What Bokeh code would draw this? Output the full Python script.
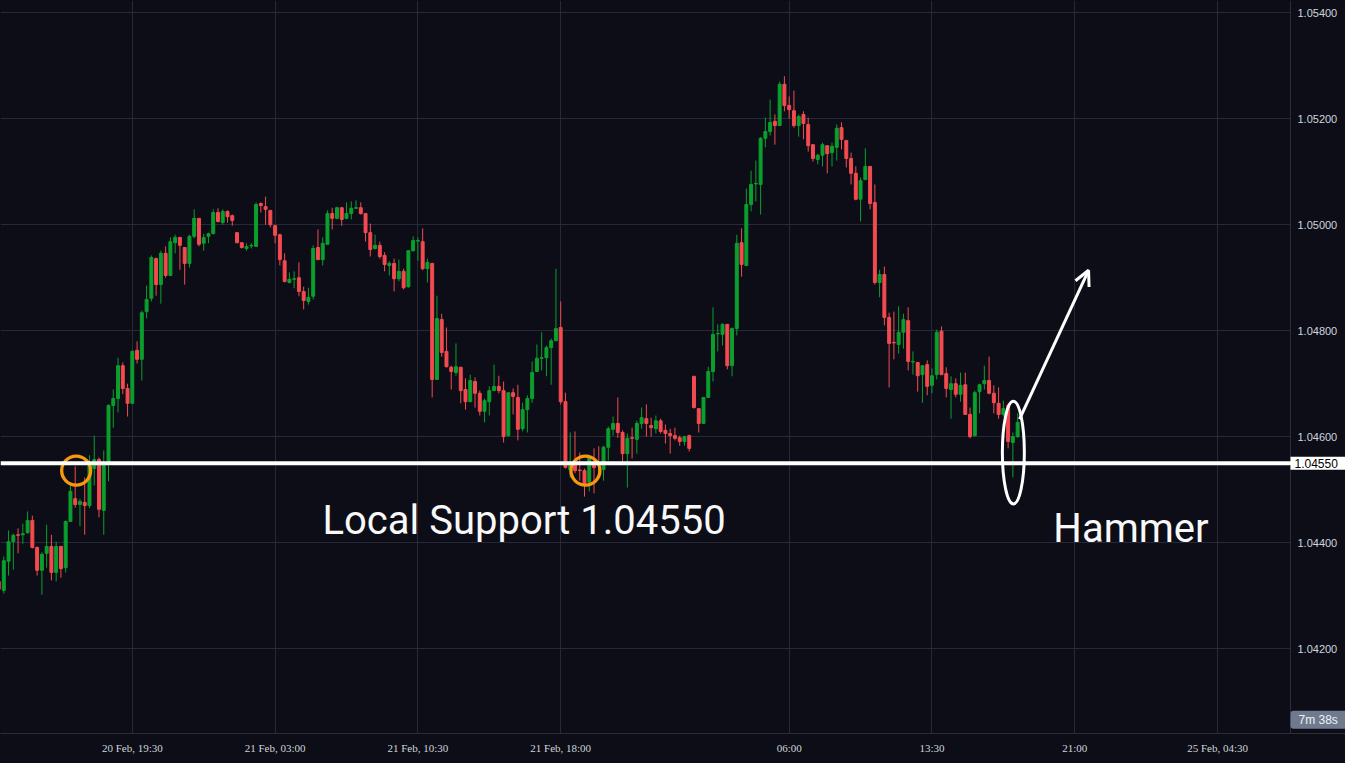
from bokeh.plotting import figure
from bokeh.models import (Range1d, FixedTicker, PrintfTickFormatter, Span, Label,
                          Arrow, OpenHead, ColumnDataSource, GlobalInlineStyleSheet)
from bokeh.embed import file_html
from bokeh.resources import INLINE

# ---------------- data (15-minute EURUSD candles) ----------------
opens = [
    1.04327, 1.04310, 1.04365, 1.04402, 1.04415, 1.04415, 1.04419, 1.04442, 1.04391, 1.04348,
    1.04380, 1.04393, 1.04344, 1.04393, 1.04353, 1.04440, 1.04483, 1.04472, 1.04476, 1.04470,
    1.04540, 1.04557, 1.04461, 1.04549, 1.04659, 1.04672, 1.04734, 1.04691, 1.04663, 1.04763,
    1.04746, 1.04836, 1.04861, 1.04936, 1.04887, 1.04946, 1.04904, 1.04966, 1.04976, 1.04957,
    1.04927, 1.04978, 1.05012, 1.04965, 1.04978, 1.04983, 1.05023, 1.05004, 1.05025, 1.05017,
    1.04985, 1.04966, 1.04955, 1.04960, 1.04959, 1.05040, 1.05034, 1.05027, 1.04998, 1.04981,
    1.04932, 1.04891, 1.04897, 1.04900, 1.04874, 1.04855, 1.04865, 1.04957, 1.04934, 1.04963,
    1.05021, 1.05012, 1.05032, 1.05012, 1.05021, 1.05031, 1.05032, 1.05021, 1.04985, 1.04955,
    1.04961, 1.04942, 1.04923, 1.04927, 1.04898, 1.04912, 1.04883, 1.04951, 1.04969, 1.04968,
    1.04917, 1.04927, 1.04708, 1.04821, 1.04761, 1.04731, 1.04721, 1.04731, 1.04689, 1.04666,
    1.04704, 1.04682, 1.04648, 1.04666, 1.04687, 1.04695, 1.04687, 1.04602, 1.04683, 1.04674,
    1.04615, 1.04651, 1.04672, 1.04723, 1.04748, 1.04749, 1.04768, 1.04781, 1.04806, 1.04666,
    1.04538, 1.04546, 1.04537, 1.04536, 1.04514, 1.04546, 1.04551, 1.04538, 1.04580, 1.04614,
    1.04625, 1.04608, 1.04568, 1.04598, 1.04595, 1.04625, 1.04634, 1.04621, 1.04615, 1.04630,
    1.04612, 1.04606, 1.04602, 1.04598, 1.04591, 1.04602, 1.04714, 1.04653, 1.04625, 1.04674,
    1.04723, 1.04794, 1.04793, 1.04812, 1.04734, 1.04804, 1.04966, 1.04923, 1.05038, 1.05077,
    1.05076, 1.05163, 1.05176, 1.05195, 1.05187, 1.05265, 1.05225, 1.05215, 1.05187, 1.05208,
    1.05189, 1.05151, 1.05123, 1.05131, 1.05149, 1.05136, 1.05146, 1.05183, 1.05159, 1.05125,
    1.05097, 1.05048, 1.05085, 1.05110, 1.05042, 1.04891, 1.04906, 1.04825, 1.04778, 1.04774,
    1.04797, 1.04819, 1.04741, 1.04740, 1.04717, 1.04736, 1.04697, 1.04717, 1.04799, 1.04719,
    1.04689, 1.04700, 1.04680, 1.04698, 1.04642, 1.04602, 1.04685, 1.04700, 1.04706, 1.04682,
    1.04663, 1.04642, 1.04659, 1.04589, 1.04600,
]
highs = [
    1.04334, 1.04374, 1.04423, 1.04417, 1.04427, 1.04436, 1.04459, 1.04451, 1.04393, 1.04382,
    1.04434, 1.04415, 1.04402, 1.04393, 1.04442, 1.04512, 1.04544, 1.04483, 1.04523, 1.04565,
    1.04602, 1.04561, 1.04574, 1.04661, 1.04689, 1.04749, 1.04740, 1.04700, 1.04763, 1.04780,
    1.04838, 1.04885, 1.04942, 1.04938, 1.04951, 1.04959, 1.04976, 1.04981, 1.04976, 1.04957,
    1.04981, 1.05029, 1.05012, 1.04983, 1.04985, 1.05029, 1.05031, 1.05029, 1.05027, 1.05019,
    1.04985, 1.04966, 1.04965, 1.04965, 1.05042, 1.05042, 1.05053, 1.05027, 1.05000, 1.04983,
    1.04946, 1.04910, 1.04912, 1.04929, 1.04883, 1.04881, 1.04961, 1.04991, 1.04976, 1.05027,
    1.05032, 1.05034, 1.05032, 1.05042, 1.05044, 1.05046, 1.05042, 1.05021, 1.05002, 1.04981,
    1.04968, 1.04948, 1.04931, 1.04936, 1.04934, 1.04917, 1.04951, 1.04978, 1.04976, 1.04993,
    1.04936, 1.04927, 1.04866, 1.04832, 1.04806, 1.04734, 1.04776, 1.04731, 1.04710, 1.04717,
    1.04712, 1.04687, 1.04672, 1.04695, 1.04736, 1.04715, 1.04704, 1.04683, 1.04691, 1.04698,
    1.04664, 1.04678, 1.04742, 1.04774, 1.04797, 1.04772, 1.04785, 1.04917, 1.04855, 1.04683,
    1.04608, 1.04610, 1.04570, 1.04540, 1.04561, 1.04578, 1.04582, 1.04583, 1.04619, 1.04638,
    1.04674, 1.04612, 1.04606, 1.04617, 1.04630, 1.04655, 1.04661, 1.04636, 1.04640, 1.04634,
    1.04623, 1.04615, 1.04617, 1.04602, 1.04602, 1.04604, 1.04714, 1.04653, 1.04674, 1.04732,
    1.04844, 1.04812, 1.04814, 1.04812, 1.04806, 1.04981, 1.04993, 1.05068, 1.05102, 1.05121,
    1.05165, 1.05202, 1.05236, 1.05208, 1.05270, 1.05280, 1.05242, 1.05253, 1.05208, 1.05214,
    1.05202, 1.05151, 1.05134, 1.05155, 1.05149, 1.05155, 1.05189, 1.05193, 1.05159, 1.05136,
    1.05110, 1.05089, 1.05144, 1.05110, 1.05076, 1.04915, 1.04921, 1.04834, 1.04836, 1.04846,
    1.04832, 1.04844, 1.04761, 1.04740, 1.04734, 1.04744, 1.04729, 1.04802, 1.04808, 1.04731,
    1.04714, 1.04710, 1.04721, 1.04721, 1.04655, 1.04687, 1.04700, 1.04734, 1.04751, 1.04697,
    1.04693, 1.04668, 1.04663, 1.04608, 1.04644,
]
lows = [
    1.04306, 1.04304, 1.04338, 1.04349, 1.04380, 1.04398, 1.04417, 1.04389, 1.04338, 1.04302,
    1.04353, 1.04329, 1.04327, 1.04334, 1.04344, 1.04440, 1.04466, 1.04431, 1.04415, 1.04465,
    1.04508, 1.04448, 1.04415, 1.04516, 1.04617, 1.04646, 1.04680, 1.04638, 1.04663, 1.04738,
    1.04706, 1.04823, 1.04855, 1.04866, 1.04851, 1.04900, 1.04904, 1.04946, 1.04915, 1.04887,
    1.04919, 1.04974, 1.04959, 1.04951, 1.04965, 1.04983, 1.05004, 1.05000, 1.05004, 1.04998,
    1.04965, 1.04955, 1.04951, 1.04955, 1.04959, 1.05023, 1.05000, 1.04995, 1.04965, 1.04923,
    1.04891, 1.04889, 1.04880, 1.04865, 1.04840, 1.04849, 1.04859, 1.04934, 1.04923, 1.04963,
    1.04991, 1.05010, 1.04998, 1.05010, 1.05010, 1.05030, 1.05019, 1.04968, 1.04940, 1.04953,
    1.04936, 1.04912, 1.04904, 1.04874, 1.04893, 1.04878, 1.04881, 1.04949, 1.04932, 1.04914,
    1.04891, 1.04674, 1.04708, 1.04751, 1.04731, 1.04689, 1.04715, 1.04663, 1.04651, 1.04666,
    1.04655, 1.04640, 1.04627, 1.04640, 1.04687, 1.04682, 1.04589, 1.04600, 1.04642, 1.04593,
    1.04610, 1.04608, 1.04664, 1.04723, 1.04725, 1.04714, 1.04698, 1.04781, 1.04661, 1.04540,
    1.04523, 1.04531, 1.04517, 1.04487, 1.04497, 1.04493, 1.04523, 1.04517, 1.04555, 1.04602,
    1.04598, 1.04553, 1.04504, 1.04559, 1.04568, 1.04615, 1.04600, 1.04600, 1.04606, 1.04606,
    1.04587, 1.04568, 1.04593, 1.04583, 1.04583, 1.04572, 1.04653, 1.04608, 1.04625, 1.04674,
    1.04704, 1.04761, 1.04772, 1.04727, 1.04714, 1.04791, 1.04902, 1.04923, 1.05025, 1.05044,
    1.05019, 1.05146, 1.05168, 1.05151, 1.05187, 1.05214, 1.05200, 1.05183, 1.05166, 1.05161,
    1.05138, 1.05119, 1.05114, 1.05110, 1.05097, 1.05110, 1.05121, 1.05142, 1.05108, 1.05076,
    1.05046, 1.05006, 1.05085, 1.05029, 1.04887, 1.04863, 1.04810, 1.04693, 1.04746, 1.04757,
    1.04766, 1.04725, 1.04717, 1.04685, 1.04664, 1.04678, 1.04682, 1.04708, 1.04717, 1.04674,
    1.04634, 1.04674, 1.04666, 1.04642, 1.04597, 1.04600, 1.04644, 1.04689, 1.04680, 1.04644,
    1.04634, 1.04638, 1.04578, 1.04523, 1.04598,
]
closes = [
    1.04312, 1.04366, 1.04402, 1.04414, 1.04414, 1.04417, 1.04442, 1.04391, 1.04348, 1.04378,
    1.04393, 1.04344, 1.04393, 1.04351, 1.04440, 1.04497, 1.04472, 1.04478, 1.04470, 1.04551,
    1.04557, 1.04463, 1.04551, 1.04659, 1.04672, 1.04734, 1.04691, 1.04663, 1.04761, 1.04746,
    1.04834, 1.04859, 1.04938, 1.04887, 1.04946, 1.04904, 1.04968, 1.04976, 1.04961, 1.04927,
    1.04978, 1.05012, 1.04963, 1.04976, 1.04983, 1.05023, 1.05006, 1.05025, 1.05015, 1.05008,
    1.04966, 1.04957, 1.04959, 1.04961, 1.05038, 1.05036, 1.05029, 1.05000, 1.04980, 1.04934,
    1.04893, 1.04897, 1.04898, 1.04874, 1.04857, 1.04863, 1.04955, 1.04934, 1.04965, 1.05021,
    1.05012, 1.05032, 1.05010, 1.05021, 1.05031, 1.05032, 1.05021, 1.04985, 1.04953, 1.04961,
    1.04940, 1.04925, 1.04927, 1.04898, 1.04912, 1.04881, 1.04951, 1.04970, 1.04970, 1.04917,
    1.04929, 1.04708, 1.04823, 1.04759, 1.04732, 1.04723, 1.04732, 1.04687, 1.04666, 1.04706,
    1.04682, 1.04648, 1.04668, 1.04687, 1.04695, 1.04687, 1.04600, 1.04683, 1.04676, 1.04614,
    1.04651, 1.04672, 1.04721, 1.04748, 1.04749, 1.04768, 1.04781, 1.04804, 1.04666, 1.04542,
    1.04551, 1.04536, 1.04536, 1.04512, 1.04561, 1.04542, 1.04546, 1.04580, 1.04615, 1.04625,
    1.04608, 1.04568, 1.04597, 1.04597, 1.04625, 1.04636, 1.04625, 1.04617, 1.04630, 1.04610,
    1.04606, 1.04602, 1.04597, 1.04591, 1.04600, 1.04578, 1.04655, 1.04625, 1.04674, 1.04723,
    1.04793, 1.04795, 1.04812, 1.04734, 1.04804, 1.04965, 1.04925, 1.05038, 1.05076, 1.05078,
    1.05163, 1.05176, 1.05193, 1.05187, 1.05265, 1.05225, 1.05217, 1.05187, 1.05204, 1.05191,
    1.05149, 1.05125, 1.05131, 1.05151, 1.05134, 1.05148, 1.05182, 1.05161, 1.05125, 1.05097,
    1.05048, 1.05083, 1.05110, 1.05040, 1.04891, 1.04906, 1.04825, 1.04776, 1.04777, 1.04797,
    1.04821, 1.04742, 1.04742, 1.04715, 1.04734, 1.04695, 1.04715, 1.04797, 1.04717, 1.04691,
    1.04700, 1.04680, 1.04697, 1.04642, 1.04600, 1.04683, 1.04698, 1.04706, 1.04682, 1.04664,
    1.04642, 1.04653, 1.04591, 1.04600, 1.04627,
]

# time axis labels (bar index of each labelled 15-minute bar)
time_tick_bars = [28, 58, 88, 118, 166, 196, 226, 256]
time_tick_labels = ["20 Feb, 19:30", "21 Feb, 03:00", "21 Feb, 10:30", "21 Feb, 18:00",
                    "06:00", "13:30", "21:00", "25 Feb, 04:30"]
price_ticks = [1.042, 1.044, 1.046, 1.048, 1.050, 1.052, 1.054]

support_level = 1.04550
support_text = "Local Support 1.04550"
pattern_text = "Hammer"
countdown_text = "7m 38s"
touch_bars = [16.2, 123.2]
touch_price = 1.04536
hammer_bar = 213.1
hammer_mid = 1.04570

# ---------------- styling ----------------
BG = "#0c0d17"
GRID = "#272939"
UP = "#0b9f2e"
DOWN = "#f44b50"
AXIS_TXT = "#d1d4dc"

X0 = 0.307           # first visible bar position
SCALE_EDGE = 271.32  # bar position of the price-scale border
X1 = 282.88          # right edge of the canvas, in bar units
Y0, Y1 = 1.04040, 1.05423

n = len(opens)
xs = list(range(n))
colors = [UP if c >= o else DOWN for o, c in zip(opens, closes)]
src = ColumnDataSource(dict(
    x=xs, high=highs, low=lows,
    top=[max(o, c) for o, c in zip(opens, closes)],
    bottom=[min(o, c) for o, c in zip(opens, closes)],
    color=colors,
))

page_css = GlobalInlineStyleSheet(
    css="html, body { margin: 0 !important; padding: 0; background: #0c0d17; overflow: hidden; }")

p = figure(width=1345, height=763, output_backend="svg", toolbar_location=None,
           x_range=Range1d(X0, X1), y_range=Range1d(Y0, Y1),
           y_axis_location="right", background_fill_color=BG, border_fill_color=BG,
           min_border_left=0, min_border_top=0, min_border_right=0, min_border_bottom=30,
           outline_line_color=None, stylesheets=[page_css])

xt = FixedTicker(ticks=time_tick_bars)
yt = FixedTicker(ticks=price_ticks)
p.xaxis.ticker = xt
p.xgrid.ticker = xt
p.yaxis.ticker = yt
p.ygrid.ticker = yt
p.xaxis.major_label_overrides = {b: s for b, s in zip(time_tick_bars, time_tick_labels)}
p.yaxis.formatter = PrintfTickFormatter(format="%.5f")
p.yaxis.fixed_location = SCALE_EDGE

for ax in (p.xaxis, p.yaxis):
    ax.axis_line_color = "#2a2d3c"
    ax.major_tick_line_color = None
    ax.minor_tick_line_color = None
    ax.major_tick_out = 0
    ax.major_tick_in = 0
    ax.major_label_text_color = AXIS_TXT
p.xaxis.major_label_text_font = "Liberation Sans Narrow"
p.xaxis.major_label_text_font_size = "11px"
p.xaxis.major_label_standoff = 8
p.yaxis.major_label_text_font = "Liberation Sans"
p.yaxis.major_label_text_font_size = "11px"
p.yaxis.major_label_standoff = 7

for g in (p.xgrid, p.ygrid):
    g.grid_line_color = GRID
    g.grid_line_width = 1

# price-scale panel background (hides the grid there)
p.quad(left=[SCALE_EDGE], right=[X1 + 5], bottom=[Y0 - 0.01], top=[Y1 + 0.01],
       fill_color=BG, line_color=None)

# candles
p.segment("x", "high", "x", "low", color="color", line_width=1, source=src)
p.vbar(x="x", width=0.62, top="top", bottom="bottom", fill_color="color",
       line_color="color", line_width=1, source=src)

# support line
p.add_layout(Span(location=support_level, dimension="width", line_color="white", line_width=4))

# touches of the support
p.scatter(x=touch_bars, y=[touch_price] * len(touch_bars), marker="circle", size=29,
          fill_alpha=0, line_color="#f7980f", line_width=3.3)

# hammer ellipse
p.ellipse(x=[hammer_bar], y=[hammer_mid], width=22, height=103, width_units="screen",
          height_units="screen", fill_alpha=0, line_color="white", line_width=3)

# arrow
p.add_layout(Arrow(end=OpenHead(line_color="white", line_width=3, size=15),
                   x_start=214.4, y_start=1.04633, x_end=228.9, y_end=1.04914,
                   line_color="white", line_width=3))

# texts
p.add_layout(Label(x=67.95, y=1.04441, text=support_text, text_color="#f8f8f8",
                   text_font="Roboto", text_font_size="40px", text_baseline="alphabetic",
                   text_align="left"))
p.add_layout(Label(x=221.5, y=1.04427, text=pattern_text, text_color="#f8f8f8",
                   text_font="Roboto", text_font_size="40px", text_baseline="alphabetic",
                   text_align="left"))

# price tag on the scale
p.add_layout(Label(x=SCALE_EDGE, y=support_level, text="1.04550", x_offset=0,
                   text_align="left", text_baseline="middle", text_color="#000000",
                   text_font="Liberation Sans", text_font_size="12px",
                   background_fill_color="white", padding=(4, 14, 2, 2)))
# countdown tag
p.add_layout(Label(x=SCALE_EDGE, y=1.04066, text=countdown_text, x_offset=0,
                   text_align="left", text_baseline="middle", text_color="#eef1f6",
                   text_font="Liberation Sans", text_font_size="12px",
                   background_fill_color="#6f7a8e", padding=(8, 14, 2, 2),
                   border_radius=(3, 0, 0, 3)))

open("out.html", "w").write(file_html(p, INLINE))
